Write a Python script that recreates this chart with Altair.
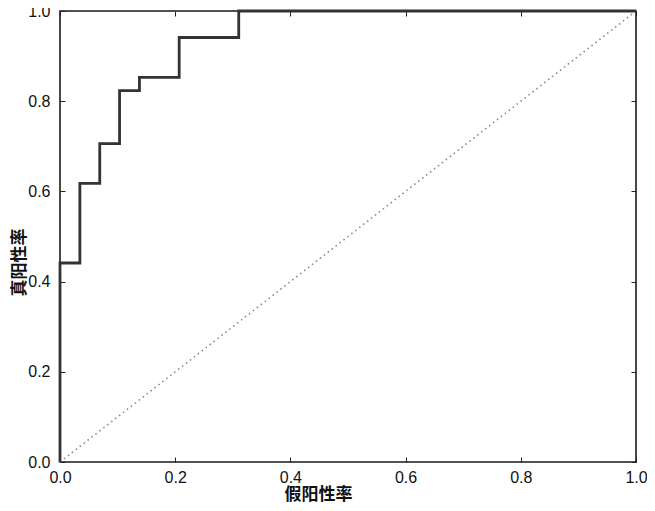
import altair as alt
import pandas as pd

# ROC curve step points (false positive rate, true positive rate)
fpr = [0.0, 0.0, 0.0345, 0.0345, 0.069, 0.069, 0.1034, 0.1034, 0.1379, 0.1379,
       0.2069, 0.2069, 0.3103, 0.3103, 1.0]
tpr = [0.0, 0.4412, 0.4412, 0.6176, 0.6176, 0.7059, 0.7059, 0.8235, 0.8235, 0.8529,
       0.8529, 0.9412, 0.9412, 1.0, 1.0]
diag_x = [0.0, 1.0]
diag_y = [0.0, 1.0]
tick_values = [0.0, 0.2, 0.4, 0.6, 0.8, 1.0]
x_title = "假阳性率"
y_title = "真阳性率"

W, H = 576, 451
NUM_FONT = "Liberation Sans, Arial, sans-serif"
CJK_FONT = "Noto Sans CJK SC"

roc = pd.DataFrame({"fpr": fpr, "tpr": tpr, "i": list(range(len(fpr)))})
diag = pd.DataFrame({"fpr": diag_x, "tpr": diag_y, "i": [0, 1]})

xs = alt.Scale(domain=[0, 1], nice=False, zero=False)
ys = alt.Scale(domain=[0, 1], nice=False, zero=False)


def tick_axis(orient, offset):
    return alt.Axis(orient=orient, offset=offset, values=tick_values, labels=False,
                    domain=False, grid=False, ticks=True, tickSize=5, tickWidth=1,
                    tickColor="#222222", title=None)


line = alt.Chart(roc).mark_line(color="#333333", strokeWidth=2.8, interpolate="linear").encode(
    x=alt.X("fpr:Q", scale=xs, axis=alt.Axis(
        orient="bottom", values=tick_values, format=".1f", ticks=False, tickSize=0,
        domain=False, grid=False, labelPadding=7, labelFlush=False,
        labelFont=NUM_FONT, labelFontSize=16, labelColor="#111111",
        title=x_title, titleFont=CJK_FONT, titleFontSize=17, titleFontWeight="bold",
        titleColor="#111111", titleX=258, titleY=32, titleAlign="center",
        titleBaseline="middle", titleAnchor="start")),
    y=alt.Y("tpr:Q", scale=ys, axis=alt.Axis(
        orient="left", values=tick_values, format=".1f", ticks=False, tickSize=0,
        domain=False, grid=False, labelPadding=10, labelFlush=False,
        labelFont=NUM_FONT, labelFontSize=16, labelColor="#111111", labelBaseline="middle",
        title=y_title, titleFont=CJK_FONT, titleFontSize=17, titleFontWeight="bold",
        titleColor="#111111", titleX=-41, titleY=251, titleAngle=270, titleAlign="center",
        titleBaseline="middle", titleAnchor="start")),
    order="i:Q",
)

diagonal = alt.Chart(diag).mark_line(color="#888888", strokeWidth=1.6,
                                     strokeDash=[1.5, 3.5]).encode(
    x=alt.X("fpr:Q", scale=xs, axis=tick_axis("top", -H)),
    y=alt.Y("tpr:Q", scale=ys, axis=tick_axis("right", -W)),
    order="i:Q",
)

ghost = alt.Chart(diag).mark_line(opacity=0).encode(
    x=alt.X("fpr:Q", scale=xs, axis=tick_axis("bottom", -H)),
    y=alt.Y("tpr:Q", scale=ys, axis=tick_axis("left", -W)),
    order="i:Q",
)

chart = alt.layer(diagonal, line, ghost).resolve_axis(
    x="independent", y="independent"
).properties(
    width=W, height=H,
    autosize=alt.AutoSizeParams(type="none"),
    padding={"left": 52, "top": 3, "right": 11, "bottom": 41},
    background="white",
).configure_view(stroke="#1a1a1a", strokeWidth=1.6)

chart.save("out.html", embed_options={"renderer": "svg", "actions": False})
